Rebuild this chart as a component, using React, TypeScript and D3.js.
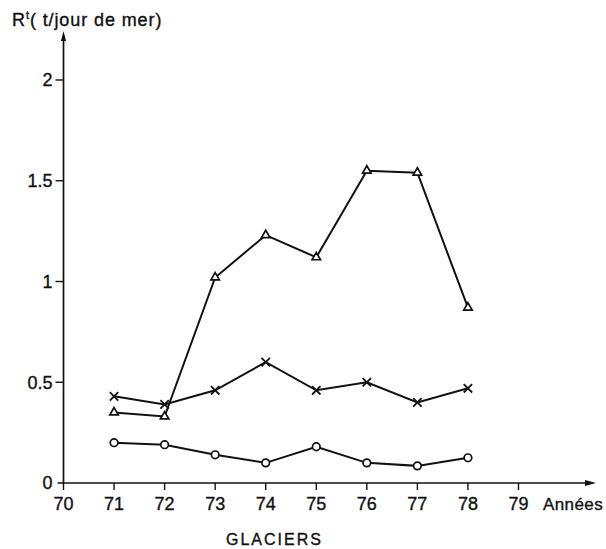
import React from "react";
import * as d3 from "d3";

const years = [71, 72, 73, 74, 75, 76, 77, 78];
const triangleSeries = [0.35, 0.33, 1.02, 1.23, 1.12, 1.55, 1.54, 0.87];
const crossSeries = [0.43, 0.39, 0.46, 0.6, 0.46, 0.5, 0.4, 0.47];
const circleSeries = [0.2, 0.19, 0.14, 0.1, 0.18, 0.1, 0.085, 0.125];
const xTicks = [70, 71, 72, 73, 74, 75, 76, 77, 78, 79];
const yTicks = [0, 0.5, 1, 1.5, 2];
const yTickLabels = ["0", "0.5", "1", "1.5", "2"];

const W = 606;
const H = 549;
const FONT = "'Liberation Sans', Arial, sans-serif";

export default function App() {
  const x = d3.scaleLinear().domain([70, 79]).range([63.5, 518.5]);
  const y = d3.scaleLinear().domain([0, 2]).range([483, 80]);
  const line = d3
    .line<number>()
    .x((_, i) => x(years[i]))
    .y((d) => y(d));

  const stroke = "#111";
  const textStyle = { stroke: "#111", strokeWidth: 0.35 };
  const tri = (cx: number, cy: number) => {
    const s = 8.5;
    const h = (s * Math.sqrt(3)) / 2;
    return `M${cx},${cy - (2 * h) / 3} L${cx + s / 2},${cy + h / 3} L${cx - s / 2},${cy + h / 3} Z`;
  };

  return (
    <svg
      width={W}
      height={H}
      style={{ position: "absolute", left: 0, top: 0, background: "#fff" }}
    >
      <rect width={W} height={H} fill="#fff" />
      {/* Y axis */}
      <line x1={x(70)} y1={y(0) + 1} x2={x(70)} y2={38} stroke={stroke} strokeWidth={1.7} />
      <path d={`M${x(70)},31 L${x(70) + 2.6},41 L${x(70) - 2.6},41 Z`} fill={stroke} />
      {/* X axis */}
      <line x1={x(70) - 6} y1={y(0)} x2={588} y2={y(0)} stroke={stroke} strokeWidth={1.7} />
      <path d={`M596,${y(0)} L585,${y(0) - 3} L585,${y(0) + 3} Z`} fill={stroke} />

      {yTicks.map((t, i) => (
        <g key={"y" + t}>
          {t > 0 && (
            <line x1={x(70) - 8} x2={x(70)} y1={y(t)} y2={y(t)} stroke={stroke} strokeWidth={1.4} />
          )}
          <text
            x={x(70) - 11}
            y={y(t)}
            dy="0.36em"
            textAnchor="end"
            fontFamily={FONT}
            fontSize={18}
            fill={stroke}
            style={textStyle}
          >
            {yTickLabels[i]}
          </text>
        </g>
      ))}

      {xTicks.map((t) => (
        <g key={"x" + t}>
          <line x1={x(t)} x2={x(t)} y1={y(0)} y2={y(0) + 7} stroke={stroke} strokeWidth={1.4} />
          <text
            x={x(t)}
            y={510}
            textAnchor="middle"
            fontFamily={FONT}
            fontSize={18}
            fill={stroke}
            style={textStyle}
          >
            {t}
          </text>
        </g>
      ))}
      <text x={543} y={510} fontFamily={FONT} fontSize={17} letterSpacing={0.4} fill={stroke} style={textStyle}>
        Années
      </text>

      <text x={12} y={26} fontFamily={FONT} fontSize={18} letterSpacing={0.9} fill={stroke} style={textStyle}>
        R<tspan fontSize={11} dy={-7}>t</tspan>
        <tspan dy={7}>( t/jour de mer)</tspan>
      </text>

      <text
        x={226}
        y={545}
        fontFamily={FONT}
        fontSize={16}
        letterSpacing={2}
        fill={stroke}
        style={textStyle}
      >
        GLACIERS
      </text>

      {/* Series lines */}
      <path d={line(triangleSeries) || ""} fill="none" stroke={stroke} strokeWidth={2} />
      <path d={line(crossSeries) || ""} fill="none" stroke={stroke} strokeWidth={2} />
      <path d={line(circleSeries) || ""} fill="none" stroke={stroke} strokeWidth={2} />

      {/* Markers */}
      {triangleSeries.map((v, i) => (
        <path
          key={"t" + i}
          d={tri(x(years[i]), y(v))}
          fill="#fff"
          stroke={stroke}
          strokeWidth={1.7}
        />
      ))}
      {crossSeries.map((v, i) => {
        const cx = x(years[i]);
        const cy = y(v);
        const r = 4.2;
        return (
          <path
            key={"c" + i}
            d={`M${cx - r},${cy - r} L${cx + r},${cy + r} M${cx + r},${cy - r} L${cx - r},${cy + r}`}
            stroke={stroke}
            strokeWidth={1.8}
          />
        );
      })}
      {circleSeries.map((v, i) => (
        <circle
          key={"o" + i}
          cx={x(years[i])}
          cy={y(v)}
          r={3.8}
          fill="#fff"
          stroke={stroke}
          strokeWidth={1.7}
        />
      ))}
    </svg>
  );
}
